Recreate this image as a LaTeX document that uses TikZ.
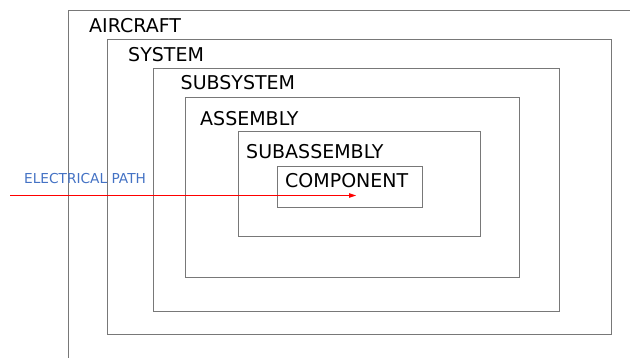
\documentclass[tikz,border=0pt]{standalone}
\usepackage{fontspec}
\setmainfont{DejaVu Sans}
\definecolor{boxgray}{RGB}{120,120,120}
\definecolor{pathblue}{RGB}{68,114,196}
\definecolor{pathred}{RGB}{255,0,0}

\begin{document}
\begin{tikzpicture}[x=1pt,y=-1pt,
  box/.style={draw=boxgray,line width=0.9pt},
  level/.style={anchor=base west,inner sep=0pt,font=\fontsize{19}{22}\selectfont},
  wire/.style={fill=pathred}]
\useasboundingbox (0,0) rectangle (630,358);
% nested boxes
\draw[box] (630,10)--(68,10)--(68,358);
\draw[box] (107,39) rectangle (611,334);
\draw[box] (153,68) rectangle (559,311);
\draw[box] (185,97) rectangle (519,277);
\draw[box] (238,131) rectangle (480,236);
\draw[box] (277,166) rectangle (422,207);
% labels
\node[level] (aircraft) at (89,32.7) {AIRCRAFT};
\node[level] (system) at (128,61.5) {SYSTEM};
\node[level] (subsystem) at (180.5,90) {SUBSYSTEM};
\node[level] (assembly) at (200,125.7) {ASSEMBLY};
\node[level] (subassembly) at (246,158.3) {SUBASSEMBLY};
\node[level] (component) at (285,187.3) {COMPONENT};
\node[anchor=base west,inner sep=0pt,text=pathblue,font=\fontsize{13.7}{16}\selectfont] (pathlabel) at (24,184) {ELECTRICAL PATH};
% electrical path (filled so the thin red line keeps its colour)
\coordinate (pathstart) at (10,195.5);
\coordinate (pathend) at (356,195.5);
\path[wire] ([yshift=-0.5pt]pathstart) rectangle ([xshift=-6pt,yshift=0.5pt]pathend);
\path[wire] (pathend) -- ++(-7,-2.4) -- ++(0,4.8) -- cycle;
\end{tikzpicture}
\end{document}
